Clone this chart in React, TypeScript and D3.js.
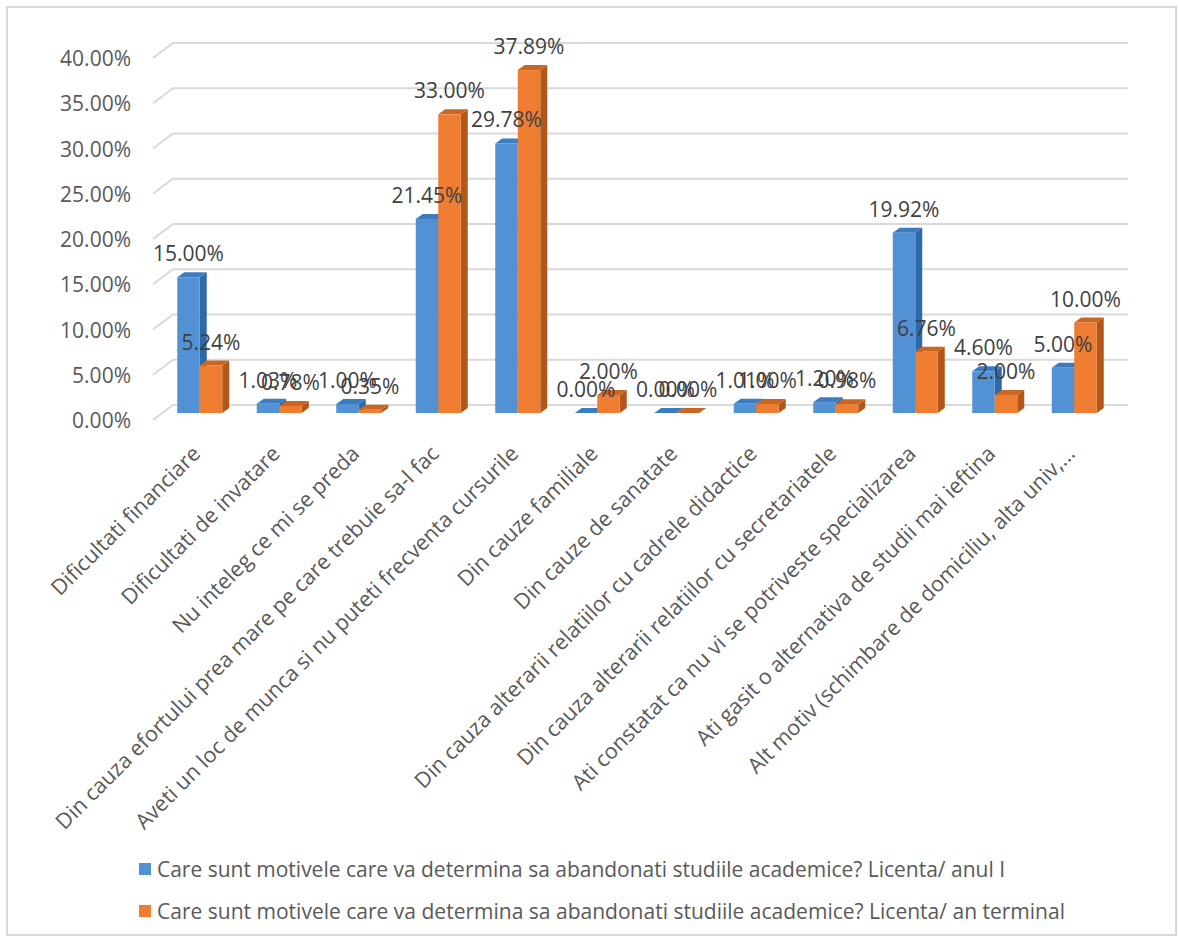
import React from "react";
import * as d3 from "d3";

const categories = [
  "Dificultati financiare",
  "Dificultati de invatare",
  "Nu inteleg ce mi se preda",
  "Din cauza efortului prea mare pe care trebuie sa-l fac",
  "Aveti un loc de munca si nu puteti frecventa cursurile",
  "Din cauze familiale",
  "Din cauze de sanatate",
  "Din cauza alterarii relatiilor cu cadrele didactice",
  "Din cauza alterarii relatiilor cu secretariatele",
  "Ati constatat ca nu vi se potriveste specializarea",
  "Ati gasit o alternativa de studii mai ieftina",
  "Alt motiv (schimbare de domiciliu, alta univ,...",
];
const anulI = [15.0, 1.03, 1.0, 21.45, 29.78, 0.0, 0.0, 1.01, 1.2, 19.92, 4.6, 5.0];
const anTerminal = [5.24, 0.78, 0.35, 33.0, 37.89, 2.0, 0.0, 1.0, 0.98, 6.76, 2.0, 10.0];
const yTicks = [0, 5, 10, 15, 20, 25, 30, 35, 40];
const seriesNames = [
  "Care sunt motivele care va determina sa abandonati studiile academice? Licenta/ anul I",
  "Care sunt motivele care va determina sa abandonati studiile academice? Licenta/ an terminal",
];

const W = 1179;
const H = 941;
const FONT = "'Open Sans', sans-serif";

const colors = [
  { front: "#5391d5", side: "#2e69a8", top: "#3b7bc2" },
  { front: "#ee7d31", side: "#b2561a", top: "#cb6622" },
];

export default function App() {
  const yBack = d3.scaleLinear().domain([0, 40]).range([405, 43]);
  const yFront = (v: number) => yBack(v) + 8;
  const x = d3.scaleBand<string>().domain(categories).range([160, 160 + 79.5 * 12]).padding(0);
  const bw = 22.5;
  const dx = 7;
  const dy = -5;
  const series = [anulI, anTerminal];

  const bar = (x0: number, w: number, v: number, c: typeof colors[0], key: string) => {
    const yt = yFront(v);
    const yb = yFront(0);
    return (
      <g key={key}>
        <polygon
          points={`${x0 + w},${yb} ${x0 + w + dx},${yb + dy} ${x0 + w + dx},${yt + dy} ${x0 + w},${yt}`}
          fill={c.side}
        />
        <polygon
          points={`${x0},${yt} ${x0 + dx},${yt + dy} ${x0 + w + dx},${yt + dy} ${x0 + w},${yt}`}
          fill={c.top}
        />
        <rect x={x0} y={yt} width={w} height={Math.max(0, yb - yt)} fill={c.front} />
      </g>
    );
  };

  return (
    <svg width={W} height={H} style={{ display: "block", position: "absolute", left: 0, top: 0 }}>
      <rect x={0} y={0} width={W} height={H} fill="#fff" />
      <rect x={7} y={7} width={1169} height={928} fill="#fff" stroke="#d9d9d9" strokeWidth={2} />
      {/* gridlines */}
      {yTicks.map((t) => (
        <g key={t}>
          <polyline
            points={`153,${yBack(t) + 15} 173,${yBack(t)} 1128,${yBack(t)}`}
            fill="none"
            stroke="#d9d9d9"
            strokeWidth={2}
          />
          <text
            x={131}
            y={yBack(t) + 23}
            textAnchor="end"
            fontFamily={FONT}
            fontSize={21}
            fill="#595959"
          >
            {t.toFixed(2) + "%"}
          </text>
        </g>
      ))}
      {/* bars */}
      {categories.map((cat, i) => {
        const c = (x(cat) as number) + x.bandwidth() / 2;
        return (
          <g key={cat}>
            {bar(c - bw, bw, series[0][i], colors[0], "b")}
            {bar(c, bw, series[1][i], colors[1], "o")}
          </g>
        );
      })}
      {/* data labels */}
      {categories.map((cat, i) => {
        const c = (x(cat) as number) + x.bandwidth() / 2;
        return (
          <g key={cat + "l"}>
            {series.map((s, si) => (
              <text
                key={si}
                x={si === 0 ? c - bw / 2 : c + bw / 2}
                y={yFront(s[i]) - 16}
                textAnchor="middle"
                fontFamily={FONT}
                fontSize={21}
                fill="#404040"
              >
                {s[i].toFixed(2) + "%"}
              </text>
            ))}
          </g>
        );
      })}
      {/* category labels */}
      {categories.map((cat) => {
        const c = (x(cat) as number) + x.bandwidth() / 2;
        return (
          <text
            key={cat + "c"}
            transform={`translate(${c + 2},${455}) rotate(-45)`}
            textAnchor="end"
            fontFamily={FONT}
            fontSize={21.5}
            fill="#595959"
          >
            {cat}
          </text>
        );
      })}
      {/* legend */}
      {seriesNames.map((n, i) => (
        <g key={n}>
          <rect x={139} y={i === 0 ? 863 : 905} width={12} height={12} fill={colors[i].front} />
          <text
            x={157}
            y={i === 0 ? 877 : 919}
            fontFamily={FONT}
            fontSize={21}
            fill="#595959"
            textLength={i === 0 ? 848 : 908}
            lengthAdjust="spacingAndGlyphs"
          >
            {n}
          </text>
        </g>
      ))}
    </svg>
  );
}
